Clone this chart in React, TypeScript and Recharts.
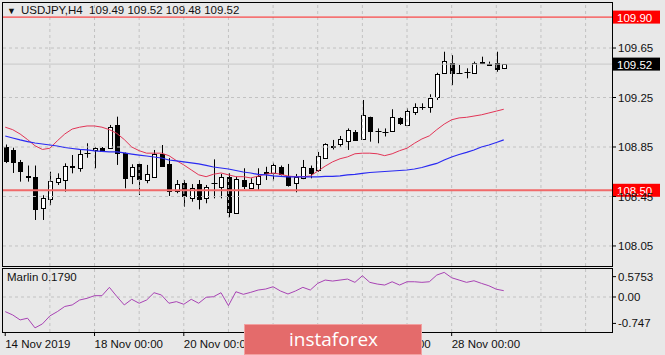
import React from 'react';
import {
  ComposedChart,
  LineChart,
  Bar,
  Line,
  XAxis,
  YAxis,
  ReferenceLine,
} from 'recharts';

// USDJPY H4, 14 Nov 2019 00:00 -> 29 Nov 2019 04:00
const opens = [
  108.85, 108.826, 108.731, 108.615, 108.61, 108.355, 108.427, 108.565, 108.583, 108.69,
  108.678, 108.8, 108.826, 108.844, 108.84, 109.028, 108.8, 108.615, 108.71, 108.583,
  108.61, 108.79, 108.71, 108.494, 108.557, 108.44, 108.55, 108.435, 108.555, 108.53,
  108.61, 108.314, 108.583, 108.52, 108.551, 108.64, 108.637, 108.69, 108.616, 108.557,
  108.597, 108.678, 108.664, 108.763, 108.85, 108.874, 108.9, 108.974, 108.915, 109.09,
  108.977, 108.97, 108.982, 109.082, 109.028, 109.135, 109.17, 109.176, 109.252, 109.446,
  109.53, 109.45, 109.455, 109.446, 109.53, 109.52, 109.53, 109.49,
];
const highs = [
  108.87, 108.844, 108.745, 108.7, 108.7, 108.46, 108.65, 108.637, 108.718, 108.785,
  108.826, 108.88, 108.85, 108.85, 109.028, 109.095, 108.805, 108.71, 108.718, 108.705,
  108.826, 108.866, 108.76, 108.583, 108.583, 108.55, 108.583, 108.543, 108.75, 108.632,
  108.637, 108.61, 108.678, 108.597, 108.678, 108.69, 108.723, 108.7, 108.713, 108.632,
  108.745, 108.7, 108.81, 108.88, 108.907, 108.939, 109.0, 108.987, 109.23, 109.095,
  109.0, 109.0, 109.155, 109.09, 109.163, 109.203, 109.203, 109.276, 109.45, 109.62,
  109.593, 109.513, 109.486, 109.54, 109.58, 109.54, 109.62, 109.52,
];
const lows = [
  108.72, 108.64, 108.57, 108.57, 108.26, 108.26, 108.38, 108.543, 108.489, 108.637,
  108.65, 108.763, 108.678, 108.81, 108.835, 108.705, 108.516, 108.55, 108.462, 108.557,
  108.6, 108.69, 108.454, 108.476, 108.368, 108.408, 108.346, 108.395, 108.435, 108.435,
  108.282, 108.31, 108.51, 108.516, 108.503, 108.583, 108.578, 108.62, 108.53, 108.484,
  108.59, 108.597, 108.65, 108.76, 108.83, 108.85, 108.826, 108.9, 108.91, 108.893,
  108.88, 108.935, 108.975, 109.028, 109.02, 109.109, 109.15, 109.127, 109.23, 109.44,
  109.35, 109.44, 109.405, 109.44, 109.52, 109.505, 109.458, 109.48,
];
const closes = [
  108.74, 108.73, 108.656, 108.605, 108.346, 108.435, 108.578, 108.597, 108.699, 108.7,
  108.793, 108.805, 108.844, 108.82, 109.014, 108.8, 108.597, 108.69, 108.589, 108.632,
  108.79, 108.696, 108.494, 108.55, 108.454, 108.52, 108.427, 108.53, 108.56, 108.61,
  108.322, 108.591, 108.535, 108.562, 108.616, 108.645, 108.702, 108.632, 108.545, 108.605,
  108.69, 108.637, 108.78, 108.872, 108.855, 108.912, 108.987, 108.907, 109.109, 108.982,
  108.98, 108.975, 109.09, 109.042, 109.143, 109.176, 109.176, 109.243, 109.44, 109.547,
  109.446, 109.446, 109.46, 109.53, 109.535, 109.515, 109.478, 109.52,
];
// red (fast) and blue (slow) moving averages
const maFast = [
  109.01, 108.99, 108.955, 108.91, 108.86, 108.83, 108.84, 108.9, 108.955, 108.995,
  109.01, 109.02, 109.02, 109.01, 108.99, 108.96, 108.91, 108.85, 108.82, 108.8,
  108.8, 108.8, 108.78, 108.74, 108.705, 108.665, 108.625, 108.61, 108.63, 108.64,
  108.625, 108.61, 108.61, 108.6, 108.615, 108.63, 108.64, 108.63, 108.615, 108.61,
  108.61, 108.615, 108.655, 108.695, 108.73, 108.755, 108.77, 108.795, 108.8, 108.8,
  108.795, 108.78, 108.795, 108.82, 108.84, 108.88, 108.915, 108.94, 108.99, 109.035,
  109.07, 109.085, 109.09, 109.1, 109.11, 109.125, 109.14, 109.155,
];
const maSlow = [
  108.939, 108.923, 108.907, 108.894, 108.882, 108.874, 108.866, 108.858, 108.846, 108.838,
  108.83, 108.826, 108.818, 108.814, 108.81, 108.81, 108.802, 108.793, 108.785, 108.777,
  108.769, 108.761, 108.745, 108.737, 108.729, 108.721, 108.713, 108.701, 108.688, 108.68,
  108.672, 108.66, 108.648, 108.64, 108.628, 108.624, 108.616, 108.612, 108.608, 108.608,
  108.608, 108.608, 108.608, 108.612, 108.612, 108.616, 108.624, 108.628, 108.636, 108.644,
  108.648, 108.652, 108.656, 108.66, 108.664, 108.672, 108.684, 108.701, 108.717, 108.745,
  108.769, 108.789, 108.806, 108.826, 108.85, 108.866, 108.886, 108.907,
];
const marlin = [
  -0.414, -0.507, -0.648, -0.6, -0.873, -0.761, -0.535, -0.414, -0.268, -0.225,
  -0.085, -0.037, 0.037, 0.037, 0.273, 0.014, -0.225, -0.065, -0.177, -0.085,
  0.121, 0.056, -0.177, -0.131, -0.206, -0.065, -0.177, -0.008, 0.008, 0.121,
  -0.245, 0.149, 0.076, 0.132, 0.197, 0.225, 0.29, 0.169, 0.085, 0.169,
  0.273, 0.197, 0.386, 0.479, 0.451, 0.479, 0.507, 0.414, 0.6, 0.414,
  0.366, 0.338, 0.431, 0.338, 0.431, 0.431, 0.414, 0.431, 0.62, 0.696,
  0.544, 0.479, 0.414, 0.459, 0.386, 0.318, 0.22, 0.179,
];

const timeTickIdx = [0, 12, 24, 36, 48, 60];
const timeTickLabels = ['14 Nov 2019', '18 Nov 00:00', '20 Nov 00:00', '22 Nov 00:00', '26 Nov 00:00', '28 Nov 00:00'];
const gridIdx = [6, 12, 18, 24, 30, 36, 42, 48, 54, 60, 66, 72, 78];
const priceTicks = [108.05, 108.45, 108.85, 109.25, 109.65];
const marlinTicks = [0.5753, 0, -0.747];
const marlinTickLabels = ['0.5753', '0.00', '-0.747'];
const resistance = 109.9;
const support = 108.5;
const bid = 109.52;

const FONT = "'Liberation Sans', Arial, sans-serif";
const BG = '#e8e8e8';
const GRID = '#c2c2c2';
const X_DOMAIN: [number, number] = [-0.3, 81.55];

const rows = opens.map((o, i) => ({
  i,
  o,
  h: highs[i],
  l: lows[i],
  c: closes[i],
  range: [lows[i], highs[i]],
  fast: maFast[i],
  slow: maSlow[i],
}));
const marlinRows = marlin.map((v, i) => ({ i, v }));

const Candle = (props: any) => {
  const { x, y, width, height, payload } = props;
  if (x == null || !payload) return null;
  const top = Math.min(y, y + height);
  const span = Math.abs(height);
  const { o, h, l, c } = payload;
  const k = h > l ? span / (h - l) : 0;
  const py = (p: number) => top + (h - p) * k;
  const cx = Math.round(x + width / 2) + 0.5;
  const bull = c >= o;
  const bTop = Math.round(Math.min(py(o), py(c))) + 0.5;
  const bBot = Math.round(Math.max(py(o), py(c))) + 0.5;
  return (
    <g>
      <line x1={cx} x2={cx} y1={top} y2={top + span} stroke="#000" />
      {bBot - bTop < 1 ? (
        <line x1={cx - 3} x2={cx + 3} y1={bTop} y2={bTop} stroke="#000" />
      ) : (
        <rect x={cx - 2} y={bTop} width={4} height={bBot - bTop} fill={bull ? '#fff' : '#000'} stroke="#000" />
      )}
    </g>
  );
};

const priceTag = (text: string, bg: string) => (props: any) => {
  const vb = props.viewBox || {};
  const x = vb.x + vb.width + 1;
  const y = vb.y;
  return (
    <g>
      <rect x={x} y={y - 6.5} width={47} height={13} fill={bg} />
      <text x={x + 4} y={y + 4.5} fill="#fff" fontSize={11.5} fontFamily={FONT}>
        {text}
      </text>
    </g>
  );
};

const TimeTick = (props: any) => {
  const { x, y, payload } = props;
  const idx = timeTickIdx.indexOf(payload.value);
  return (
    <text x={x} y={y} dy="0.75em" textAnchor="start" fontSize={11.5} fill="#111" fontFamily={FONT}>
      {timeTickLabels[idx]}
    </text>
  );
};

const paneBorder = (top: number, height: number): React.CSSProperties => ({
  position: 'absolute',
  left: 2,
  top,
  width: 609,
  height,
  border: '1px solid #000',
  pointerEvents: 'none',
});

export default function App() {
  return (
    <div style={{ position: 'absolute', left: 0, top: 0, width: 665, height: 355, background: BG, overflow: 'hidden', fontFamily: FONT }}>
      <div style={{ position: 'absolute', left: 0, top: 0 }}>
        <ComposedChart width={665} height={268} data={rows} margin={{ top: 2, right: 0, bottom: 2, left: 3 }}>
          <XAxis dataKey="i" type="number" domain={X_DOMAIN} allowDataOverflow hide />
          <YAxis
            orientation="right"
            width={53}
            domain={[107.888, 110.022]}
            allowDataOverflow
            ticks={priceTicks}
            tickFormatter={(v: number) => v.toFixed(2)}
            axisLine={false}
            tickSize={4}
            tickMargin={2}
            tickLine={{ stroke: '#000' }}
            tick={{ fontSize: 11.5, fill: '#111', fontFamily: FONT }}
          />
          {gridIdx.map((g) => (
            <ReferenceLine key={'v' + g} x={g} stroke={GRID} strokeDasharray="3 3" />
          ))}
          {priceTicks.map((p) => (
            <ReferenceLine key={'h' + p} y={p} stroke={GRID} strokeDasharray="3 3" />
          ))}
          <ReferenceLine y={bid} stroke="#c8c8c8" label={priceTag('109.52', '#000')} />
          <Bar dataKey="range" barSize={6} shape={Candle} isAnimationActive={false} />
          <Line dataKey="fast" type="linear" stroke="#e23456" strokeWidth={1} dot={false} isAnimationActive={false} />
          <Line dataKey="slow" type="linear" stroke="#2a2af2" strokeWidth={1.2} dot={false} isAnimationActive={false} />
          <ReferenceLine y={resistance} stroke="#ff2020" strokeWidth={1} label={priceTag('109.90', '#ff0000')} />
          <ReferenceLine y={support} stroke="#f06a6a" strokeWidth={2} label={priceTag('108.50', '#ff0000')} />
        </ComposedChart>
      </div>
      <div style={{ position: 'absolute', left: 0, top: 268 }}>
        <LineChart width={665} height={87} data={marlinRows} margin={{ top: 0, right: 0, bottom: 0, left: 3 }}>
          <XAxis
            dataKey="i"
            type="number"
            domain={X_DOMAIN}
            allowDataOverflow
            ticks={timeTickIdx}
            interval={0}
            height={23}
            axisLine={false}
            tickSize={4}
            tickMargin={3}
            tickLine={{ stroke: '#000' }}
            tick={TimeTick}
          />
          <YAxis
            orientation="right"
            width={53}
            domain={[-0.99, 0.82]}
            allowDataOverflow
            ticks={marlinTicks}
            tickFormatter={(v: number) => marlinTickLabels[marlinTicks.indexOf(v)]}
            axisLine={false}
            tickSize={4}
            tickMargin={2}
            tickLine={{ stroke: '#000' }}
            tick={{ fontSize: 11.5, fill: '#111', fontFamily: FONT }}
          />
          {gridIdx.map((g) => (
            <ReferenceLine key={'mv' + g} x={g} stroke={GRID} strokeDasharray="3 3" />
          ))}
          <ReferenceLine y={0} stroke={GRID} strokeDasharray="3 3" />
          <Line dataKey="v" type="linear" stroke="#a843b4" strokeWidth={1} dot={false} isAnimationActive={false} />
        </LineChart>
      </div>
      <div style={paneBorder(2, 263)} />
      <div style={paneBorder(268, 63)} />
      <div style={{ position: 'absolute', left: 7, top: 4, fontSize: 11.5, color: '#111', whiteSpace: 'pre' }}>
        <span style={{ fontSize: 9, marginRight: 5 }}>▼</span>
        {'USDJPY,H4  109.49 109.52 109.48 109.52'}
      </div>
      <div style={{ position: 'absolute', left: 7, top: 271, fontSize: 11.5, color: '#111' }}>Marlin 0.1790</div>
      <div
        style={{
          position: 'absolute',
          left: 244,
          top: 324,
          width: 178,
          height: 31,
          background: '#e46b6b',
          boxShadow: 'inset 0 0 0 1px #f2a0a0',
          color: '#fff',
          fontFamily: "'Open Sans', sans-serif",
          fontSize: 19,
          lineHeight: '31px',
          paddingLeft: 45,
          boxSizing: 'border-box',
        }}
      >
        instaforex
      </div>
    </div>
  );
}
